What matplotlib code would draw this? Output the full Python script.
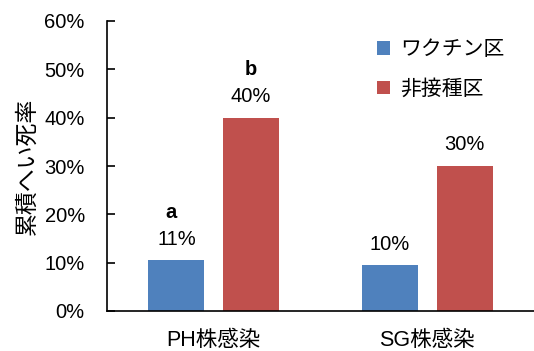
import matplotlib
matplotlib.use("Agg")
import matplotlib.pyplot as plt
import numpy as np

plt.rcParams['font.family'] = ['Liberation Sans', 'Noto Sans CJK JP', 'DejaVu Sans']

categories = ['PH株感染', 'SG株感染']
series_names = ['ワクチン区', '非接種区']
vaccine = [10.5, 9.5]
control = [40.0, 30.0]
vaccine_labels = ['11%', '10%']
control_labels = ['40%', '30%']
vaccine_sig = ['a', '']
control_sig = ['b', '']
yticks = [0, 10, 20, 30, 40, 50, 60]
ytick_labels = ['0%', '10%', '20%', '30%', '40%', '50%', '60%']
ylabel = '累積へい死率'

blue = '#4F81BD'
red = '#C0504D'

fig = plt.figure(figsize=(5.34, 3.51), dpi=100)
ax = fig.add_axes([107/534, 1 - 311/351, 1 - 107/534, 290/351])

x = np.arange(len(categories))
w = 0.262
off = 0.175
b1 = ax.bar(x - off, vaccine, w, color=blue, label=series_names[0])
b2 = ax.bar(x + off, control, w, color=red, label=series_names[1])

ax.set_xlim(-0.5, 1.5)
ax.set_ylim(0, 60)
ax.set_yticks(yticks)
ax.set_yticklabels(ytick_labels, fontsize=14.5)
ax.set_xticks(x)
ax.set_xticklabels(categories, fontsize=15.5)
ax.tick_params(axis='x', length=0, pad=13.5)
ax.tick_params(axis='y', direction='in', length=6, width=1.2, pad=16)
for s in ['top', 'right']:
    ax.spines[s].set_visible(False)
for s in ['left', 'bottom']:
    ax.spines[s].set_linewidth(1.2)
    ax.spines[s].set_color('black')

ax.set_ylabel(ylabel, fontsize=16.5, labelpad=4)

px = 72 / 100
for bars, labels, sig in [(b1, vaccine_labels, vaccine_sig), (b2, control_labels, control_sig)]:
    for rect, lab, sg in zip(bars, labels, sig):
        cx = rect.get_x() + rect.get_width() / 2
        top = rect.get_height()
        ax.annotate(lab, (cx, top), xytext=(0, 21 * px), textcoords='offset points',
                    ha='center', va='center', fontsize=14.5)
        if sg:
            ax.annotate(sg, (cx, top), xytext=(-5 * px if sg == 'a' else 0, 48 * px),
                        textcoords='offset points', ha='center', va='center',
                        fontsize=14.5, fontweight='bold')

leg = ax.legend(loc='upper left', bbox_to_anchor=(367/534, 1 - 30/351),
                bbox_transform=fig.transFigure, frameon=False, fontsize=15,
                handlelength=0.62, handleheight=0.62, handletextpad=0.45,
                labelspacing=0.95, borderpad=0)

fig.savefig('out.png', dpi=100)
